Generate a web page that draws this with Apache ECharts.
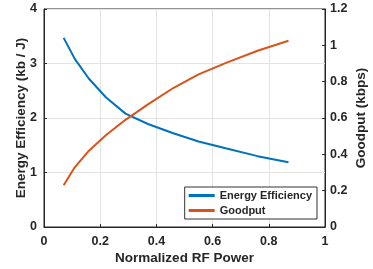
<!DOCTYPE html>
<html>
<head>
<meta charset="utf-8">
<script src="https://cdn.jsdelivr.net/npm/echarts@6/dist/echarts.min.js"></script>
<style>
  html, body { margin: 0; padding: 0; background: #fff; }
  #chart { width: 373px; height: 269px; }
</style>
</head>
<body>
<div id="chart"></div>
<script>
// normalized RF power samples
const rfPower = [0.07, 0.11, 0.16, 0.22, 0.29, 0.37, 0.46, 0.55, 0.65, 0.76, 0.87]
// energy efficiency (kb / J), left axis
const energyEff = [3.47, 3.08, 2.72, 2.38, 2.08, 1.89, 1.72, 1.57, 1.44, 1.30, 1.19]
// goodput (kbps), right axis
const goodput = [0.23, 0.33, 0.42, 0.505, 0.59, 0.675, 0.765, 0.84, 0.905, 0.97, 1.025]

const txt = '#262626'
const font = '"Liberation Sans", Arial, sans-serif'

const chart = echarts.init(document.getElementById('chart'))

const axisCommon = {
  axisLine: { show: true, lineStyle: { color: txt, width: 1 } },
  axisTick: { show: true, inside: true, length: 3, lineStyle: { color: txt } },
  axisLabel: { color: txt, fontFamily: font, fontWeight: 'bold', fontSize: 12.5 },
  nameTextStyle: { color: txt, fontFamily: font, fontWeight: 'bold', fontSize: 13.5 },
  nameMoveOverlap: false
}

chart.setOption({
  animation: false,
  grid: {
    left: 44, right: 48, top: 9, bottom: 42,
    outerBoundsMode: 'none',
    show: true, borderColor: txt, borderWidth: 1
  },
  legend: {
    right: 56,
    bottom: 50,
    orient: 'vertical',
    backgroundColor: '#fff',
    borderColor: '#333',
    borderWidth: 1,
    padding: [3, 5, 3, 4],
    itemGap: 4,
    itemWidth: 26,
    itemHeight: 3,
    icon: 'rect',
    textStyle: { color: txt, fontFamily: font, fontWeight: 'bold', fontSize: 11 },
    data: ['Energy Efficiency', 'Goodput']
  },
  xAxis: {
    type: 'value',
    min: 0, max: 1, interval: 0.2,
    name: 'Normalized RF Power',
    nameLocation: 'middle',
    nameGap: 24,
    ...axisCommon,
    axisLabel: { ...axisCommon.axisLabel, margin: 8 },
    splitLine: { show: true, lineStyle: { color: '#e3e3e3' } }
  },
  yAxis: [
    {
      type: 'value',
      min: 0, max: 4, interval: 1,
      name: 'Energy Efficiency (kb / J)',
      nameLocation: 'middle',
      nameGap: 16,
      ...axisCommon,
      axisLabel: { ...axisCommon.axisLabel, margin: 7 },
      splitLine: { show: true, lineStyle: { color: '#e3e3e3' } }
    },
    {
      type: 'value',
      min: 0, max: 1.2, interval: 0.2,
      name: 'Goodput (kbps)',
      nameLocation: 'middle',
      nameGap: 29,
      nameRotate: 90,
      ...axisCommon,
      axisLabel: { ...axisCommon.axisLabel, margin: 5 },
      splitLine: { show: false }
    }
  ],
  series: [
    {
      name: 'Energy Efficiency',
      type: 'line',
      yAxisIndex: 0,
      data: rfPower.map((x, i) => [x, energyEff[i]]),
      showSymbol: false,
      itemStyle: { color: '#0072BD' },
      lineStyle: { color: '#0072BD', width: 2 }
    },
    {
      name: 'Goodput',
      type: 'line',
      yAxisIndex: 1,
      data: rfPower.map((x, i) => [x, goodput[i]]),
      showSymbol: false,
      itemStyle: { color: '#D95319' },
      lineStyle: { color: '#D95319', width: 2 }
    }
  ]
})
</script>
</body>
</html>
